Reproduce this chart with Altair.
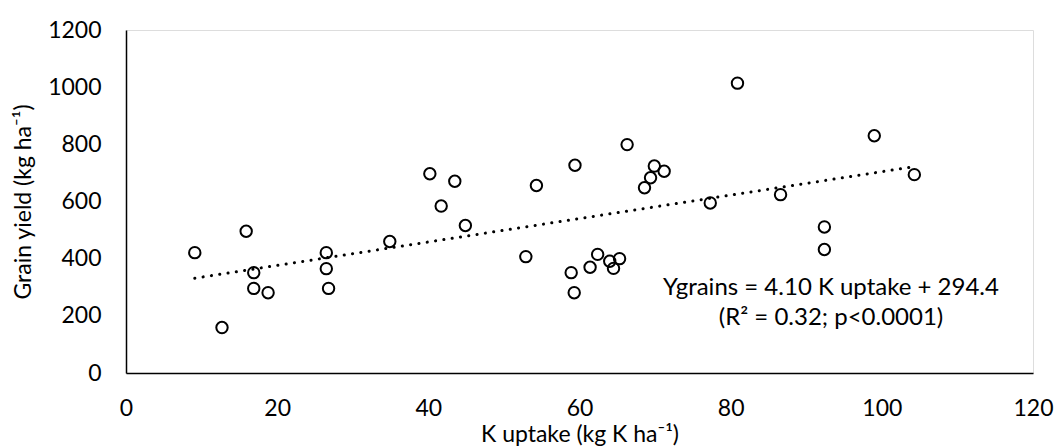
import altair as alt
import pandas as pd

# Data
k_uptake = [9.1, 15.9, 12.7, 16.9, 16.9, 18.8, 26.5, 26.5, 26.8, 34.9,
            40.2, 43.5, 41.7, 44.9, 52.9, 54.3, 59.4, 58.9, 59.3, 61.4,
            62.4, 64.0, 64.5, 65.3, 66.3, 68.6, 69.4, 69.9, 71.2, 77.3,
            80.9, 99.0, 104.3, 86.6, 92.4, 92.4]
grain_yield = [421, 496, 159, 351, 296, 281, 421, 365, 296, 460,
               697, 671, 584, 516, 407, 656, 727, 351, 281, 370,
               415, 391, 366, 400, 799, 648, 683, 724, 706, 595,
               1014, 830, 694, 624, 511, 432]

slope = 4.10
intercept = 294.4
eq_lines = ["Ygrains = 4.10 K uptake + 294.4", "(R\u00b2 = 0.32; p<0.0001)"]

x_ticks = [0, 20, 40, 60, 80, 100, 120]
y_ticks = [0, 200, 400, 600, 800, 1000, 1200]

FONT = "Lato"
FS = 23

df = pd.DataFrame({"x": k_uptake, "y": grain_yield})
trend_df = pd.DataFrame({"x": [min(k_uptake), max(k_uptake)]})

xs = alt.Scale(domain=[0, 120], nice=False, zero=True)
ys = alt.Scale(domain=[0, 1200], nice=False)

x_axis = alt.Axis(values=x_ticks, format="d", grid=False, ticks=False, domainColor="#000000",
                  domainWidth=1.5, labelFont=FONT, labelFontSize=FS, labelColor="#000000",
                  labelPadding=24, titleFont=FONT, titleFontSize=FS, titleFontWeight="normal",
                  titleColor="#000000", titlePadding=3, labelFlush=False)
y_axis = alt.Axis(values=y_ticks, format="d", grid=False, ticks=False, domainColor="#000000",
                  domainWidth=1.5, labelFont=FONT, labelFontSize=FS, labelColor="#000000",
                  labelPadding=25, titleFont=FONT, titleFontSize=FS, titleFontWeight="normal",
                  titleColor="#000000", titlePadding=12, labelFlush=False)

points = alt.Chart(df).mark_point(shape="circle", filled=False, stroke="#000000",
                                  strokeWidth=2, size=130, opacity=1).encode(
    x=alt.X("x:Q", scale=xs, axis=x_axis, title="K uptake (kg K ha\u207b\u00b9)"),
    y=alt.Y("y:Q", scale=ys, axis=y_axis, title="Grain yield (kg ha\u207b\u00b9)"),
)

trend = alt.Chart(trend_df).mark_line(color="#000000", strokeWidth=3, strokeCap="round",
                                      strokeDash=[0.1, 8.3]).transform_calculate(
    y=f"{slope} * datum.x + {intercept}"
).encode(x=alt.X("x:Q", scale=xs), y=alt.Y("y:Q", scale=ys))

text_layers = []
for line, ypix in zip(eq_lines, [258, 288]):
    text_layers.append(
        alt.Chart(pd.DataFrame({"t": [line]})).mark_text(
            font=FONT, fontSize=24, color="#000000", align="center", baseline="middle"
        ).encode(x=alt.value(705), y=alt.value(ypix), text="t:N")
    )

chart = alt.layer(trend, points, *text_layers).properties(
    width=907, height=343,
    autosize=alt.AutoSizeParams(type="none"),
    padding={"left": 126, "top": 30, "right": 23, "bottom": 75},
).configure_view(stroke=None).configure(background="white")

chart.save("out.html", embed_options={"renderer": "svg", "actions": False})
